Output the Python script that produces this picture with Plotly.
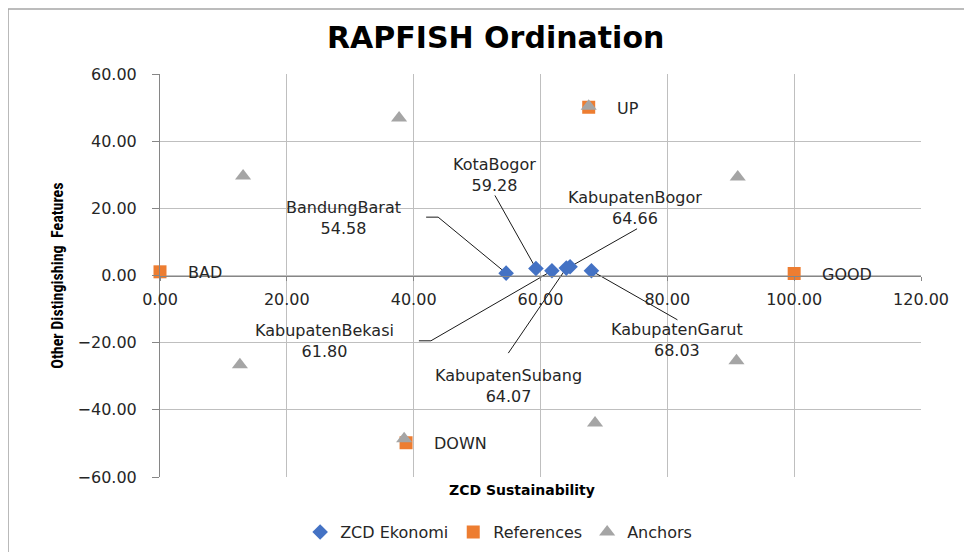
import plotly.graph_objects as go

# ---------------- data ----------------
zcd_names = ["BandungBarat", "KotaBogor", "KabupatenBekasi", "KabupatenSubang", "KabupatenBogor", "KabupatenGarut"]
zcd_x = [54.58, 59.28, 61.80, 64.07, 64.66, 68.03]
zcd_y = [0.7, 2.1, 1.4, 2.2, 2.6, 1.4]

ref_names = ["BAD", "GOOD", "UP", "DOWN"]
ref_x = [0.0, 100.0, 67.6, 38.8]
ref_y = [1.1, 0.6, 50.1, -49.8]

anchor_x = [37.7, 13.1, 91.1, 12.6, 90.9, 38.5, 68.6, 67.6]
anchor_y = [46.9, 29.6, 29.3, -26.6, -25.4, -48.6, -43.9, 50.4]

x_ticks = [0, 20, 40, 60, 80, 100, 120]
y_ticks = [-60, -40, -20, 0, 20, 40, 60]

# label placement (pixel offsets, layout only)
label_shift = {
    "BandungBarat": (-163, 55),
    "KotaBogor": (-41, 93),
    "KabupatenBekasi": (-227, -70),
    "KabupatenSubang": (-58, -118),
    "KabupatenBogor": (65, 59),
    "KabupatenGarut": (86, -69),
}
leader_path = {
    "BandungBarat": "M0,0 L-68,56 L-80,56",
    "KotaBogor": "M0,0 L-41,73",
    "KabupatenBekasi": "M0,0 L-121,-70 L-133,-70",
    "KabupatenSubang": "M0,0 L-58,-85",
    "KabupatenBogor": "M0,0 L67,38",
    "KabupatenGarut": "M0,0 L86,-49",
}

FONT = "DejaVu Sans, Verdana, sans-serif"
TXT = "#262626"
BLUE = "#4472C4"
ORANGE = "#ED7D31"
GRAY = "#A5A5A5"

fig = go.Figure()
fig.add_trace(go.Scatter(
    x=zcd_x, y=zcd_y, mode="markers", name="ZCD Ekonomi", cliponaxis=False,
    marker=dict(symbol="diamond", size=12, color=BLUE),
))
fig.add_trace(go.Scatter(
    x=ref_x, y=ref_y, mode="markers", name="References", cliponaxis=False,
    marker=dict(symbol="square", size=13, color=ORANGE),
))
fig.add_trace(go.Scatter(
    x=anchor_x, y=anchor_y, mode="markers", name="Anchors", cliponaxis=False,
    marker=dict(symbol="triangle-up", size=14, color=GRAY),
))

annotations = []
shapes = []
for n, x, y in zip(zcd_names, zcd_x, zcd_y):
    dx, dy = label_shift[n]
    annotations.append(dict(
        x=x, y=y, xref="x", yref="y", text=f"{n}<br>{x:.2f}", showarrow=False,
        xshift=dx, yshift=dy, font=dict(family=FONT, size=16, color=TXT),
        xanchor="center", yanchor="middle",
    ))
    shapes.append(dict(
        type="path", xref="x", yref="y", xsizemode="pixel", ysizemode="pixel",
        xanchor=x, yanchor=y, path=leader_path[n], layer="between",
        line=dict(color="#1a1a1a", width=1),
    ))

for n, x, y in zip(ref_names, ref_x, ref_y):
    annotations.append(dict(
        x=x, y=y, xref="x", yref="y", text=n, showarrow=False,
        xshift=26, yshift=-1, xanchor="left", yanchor="middle",
        font=dict(family=FONT, size=16, color=TXT),
    ))

# title
annotations.append(dict(
    x=0.4415, y=1.0916, xref="paper", yref="paper", text="<b>RAPFISH Ordination</b>",
    showarrow=False, xanchor="center", yanchor="middle",
    font=dict(family=FONT, size=30, color="#000000"),
))
# x-axis title
annotations.append(dict(
    x=0.476, y=-0.032, xref="paper", yref="paper", text="<b>ZCD Sustainability</b>",
    showarrow=False, xanchor="center", yanchor="middle",
    font=dict(family=FONT, size=14, color="#000000"),
))
# y-axis title
annotations.append(dict(
    x=-0.135, y=0.5, xref="paper", yref="paper", text="<b>Other Distingishing  Features</b>",
    showarrow=False, xanchor="center", yanchor="middle", textangle=-90,
    font=dict(family="Liberation Sans Narrow, Roboto Condensed, Liberation Sans, sans-serif", size=16, color="#000000"),
))

# chart-area border
shapes.append(dict(
    type="rect", xref="paper", yref="paper", x0=-0.1997, x1=1.1, y0=-0.3, y1=1.161,
    line=dict(color="#A6A6A6", width=1.5), fillcolor="rgba(0,0,0,0)", layer="below",
))

fig.update_layout(
    width=964, height=552,
    margin=dict(l=152, r=51, t=66, b=82),
    paper_bgcolor="white", plot_bgcolor="white",
    showlegend=True,
    legend=dict(
        orientation="h", x=0.445, y=-0.134, xanchor="center", yanchor="middle",
        font=dict(family=FONT, size=16, color=TXT), itemwidth=30,
        bgcolor="rgba(0,0,0,0)",
    ),
    annotations=annotations,
    shapes=shapes,
    xaxis=dict(
        range=[0, 120], tickvals=x_ticks, tickformat=".2f",
        anchor="free", position=0.5,
        showgrid=True, gridcolor="#BFBFBF", gridwidth=1,
        zeroline=False, showline=True, linecolor="#868686", linewidth=1,
        ticks="outside", ticklen=4, tickcolor="#868686",
        tickfont=dict(family=FONT, size=16, color=TXT), ticklabelstandoff=5,
    ),
    yaxis=dict(
        range=[-60, 60], tickvals=y_ticks, tickformat=".2f",
        showgrid=True, gridcolor="#BFBFBF", gridwidth=1,
        zeroline=False, showline=True, linecolor="#868686", linewidth=1,
        ticks="outside", ticklen=7, tickcolor="#868686",
        tickfont=dict(family=FONT, size=16, color=TXT), ticklabelstandoff=12,
    ),
)

fig.write_html("out.html")
